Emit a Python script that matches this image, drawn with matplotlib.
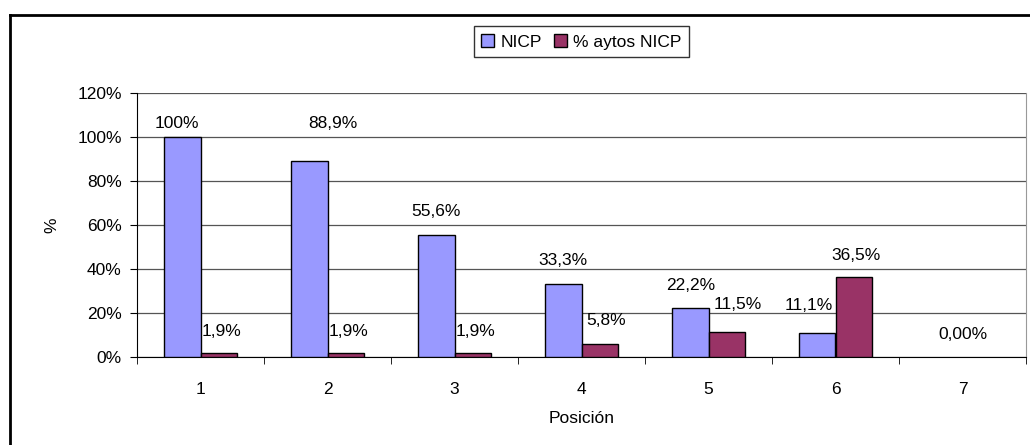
import matplotlib.pyplot as plt
import numpy as np
from matplotlib.lines import Line2D

posiciones = ['1', '2', '3', '4', '5', '6', '7']
nicp = [100, 88.9, 55.6, 33.3, 22.2, 11.1, 0]
aytos = [1.9, 1.9, 1.9, 5.8, 11.5, 36.5, 0]
nicp_txt = ['100%', '88,9%', '55,6%', '33,3%', '22,2%', '11,1%', None]
aytos_txt = ['1,9%', '1,9%', '1,9%', '5,8%', '11,5%', '36,5%', None]

plt.rcParams['font.family'] = ['Liberation Sans', 'DejaVu Sans']
fs = 12.5

fig = plt.figure(figsize=(10.3, 4.45), dpi=100)
ax = fig.add_axes([137/1030, 1 - 357/445, 889/1030, 264/445])

x = np.arange(len(posiciones))
w = 1 / 3.5
edges1 = ['black' if v > 0 else 'none' for v in nicp]
edges2 = ['black' if v > 0 else 'none' for v in aytos]
ax.bar(x - w/2, nicp, w, color='#9999FF', edgecolor=edges1, linewidth=1, label='NICP', zorder=3)
ax.bar(x + w/2, aytos, w, color='#993366', edgecolor=edges2, linewidth=1, label='% aytos NICP', zorder=3)

# manual nudges for a couple of labels (as in the original)
nicp_off = {0: (-4, 4), 1: (17, 22), 5: (-6, 14)}
aytos_off = {3: (5, 12), 4: (8, 14)}
for i, t in enumerate(nicp_txt):
    if t:
        dx, dy = nicp_off.get(i, (0, 11))
        ax.annotate(t, (x[i] - w/2, nicp[i]), xytext=(dx, dy), textcoords='offset points',
                    ha='center', va='bottom', fontsize=fs)
for i, t in enumerate(aytos_txt):
    if t:
        dx, dy = aytos_off.get(i, (2, 10))
        ax.annotate(t, (x[i] + w/2, aytos[i]), xytext=(dx, dy), textcoords='offset points',
                    ha='center', va='bottom', fontsize=fs)
ax.annotate('0,00%', (x[6], 0), xytext=(0, 11), textcoords='offset points',
            ha='center', va='bottom', fontsize=fs)

ax.set_xlim(-0.5, len(posiciones) - 0.5)
ax.set_ylim(0, 120)
ax.set_yticks(range(0, 121, 20))
ax.set_yticklabels([f'{v}%' for v in range(0, 121, 20)], fontsize=fs)
ax.set_xticks(x)
ax.set_xticklabels(posiciones, fontsize=fs)
ax.set_xticks(np.arange(-0.5, len(posiciones)), minor=True)
ax.tick_params(axis='x', which='major', length=0, pad=18)
ax.tick_params(axis='x', which='minor', length=5, direction='out', color='black')
ax.tick_params(axis='y', length=5, direction='out', pad=6)
ax.grid(axis='y', color='#555555', linewidth=0.9, zorder=0)

ax.spines['top'].set_visible(False)
ax.spines['right'].set_color('#999999')
ax.spines['left'].set_color('black')
ax.spines['bottom'].set_color('black')

ax.set_xlabel('Posición', fontsize=fs, labelpad=10)
ax.set_ylabel('%', fontsize=fs, labelpad=13)

leg = ax.legend(loc='upper center', bbox_to_anchor=(0.5, 1.272), ncol=2, fontsize=fs,
                frameon=True, fancybox=False, edgecolor='black', handlelength=0.75,
                handleheight=0.75, handletextpad=0.35, columnspacing=0.7, borderpad=0.45,
                borderaxespad=0.3)
leg.get_frame().set_linewidth(1)

fig.add_artist(Line2D([10/1030, 10/1030], [0, 1 - 15/445], color='black', linewidth=2))
fig.add_artist(Line2D([10/1030, 1], [1 - 15/445, 1 - 15/445], color='black', linewidth=2))

fig.savefig('out.png', dpi=100)
